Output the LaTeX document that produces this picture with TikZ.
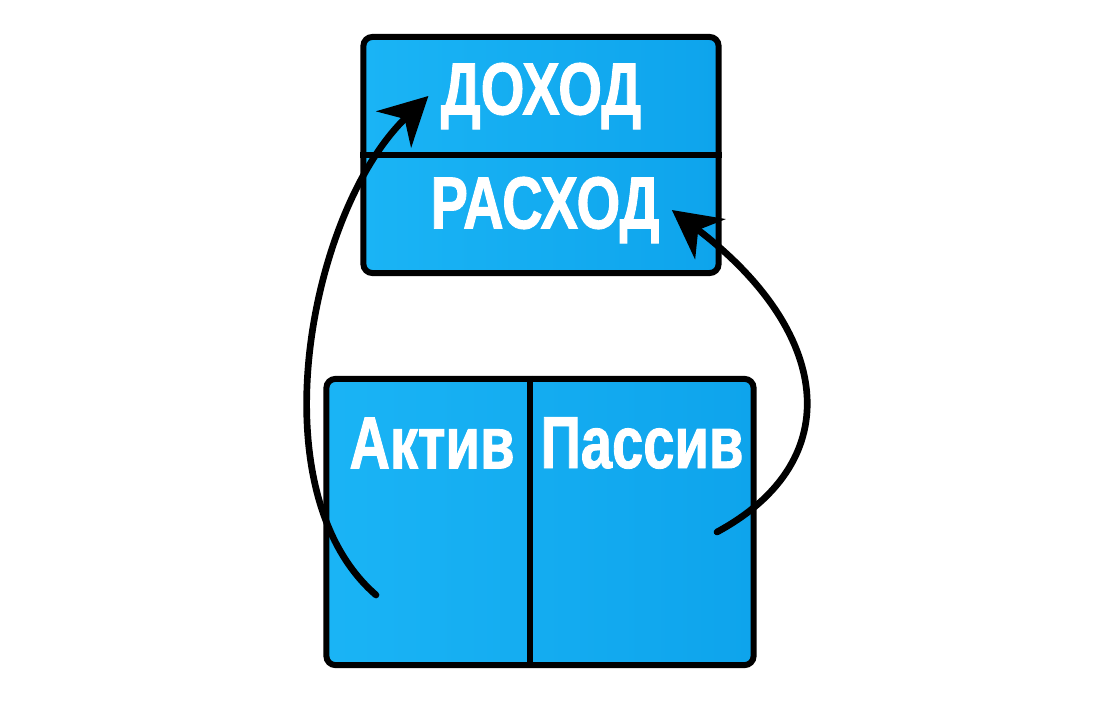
\documentclass[tikz,border=0pt]{standalone}
\usepackage{fontspec}
\newfontfamily\boxfont[FakeStretch=0.76,FakeBold=1.2]{Liberation Sans}
\usetikzlibrary{arrows.meta}
\definecolor{panelleft}{RGB}{26,180,245}
\definecolor{panelright}{RGB}{14,164,236}
\begin{document}
\begin{tikzpicture}[
                    x=0.01cm, y=-0.01cm,
                    >={Stealth[length=0.48cm,width=0.5cm,inset=0.15cm]},
                    panel/.style={draw=black, line width=1.7pt, rounded corners=0.9mm, left color=panelleft, right color=panelright},
                    label/.style={text=white, font=\boxfont\bfseries\fontsize{21}{24}\selectfont},
                    flow/.style={draw=black, line width=1.9pt, line cap=round, ->}
                    ]

                    \useasboundingbox (0,0) rectangle (1093,709);

                    \node [panel, minimum width=3.55cm, minimum height=2.36cm] (report) at (541,155) {};
                    \node [panel, minimum width=4.27cm, minimum height=2.86cm] (balance) at (540,522) {};
                    \draw[line width=1.7pt] (report.west) -- (report.east);
                    \draw[line width=1.7pt] ([xshift=-0.1cm]balance.north) -- ([xshift=-0.1cm]balance.south);

                    \node [label] (income) at (541,96) {ДОХОД};
                    \node [label] (expense) at (545,210) {РАСХОД};
                    \node [label] (asset) at (432,443) {Актив};
                    \node [label] (liability) at (642,443) {Пассив};

                    \coordinate (assetend) at (376,595);
                    \coordinate (liabilityend) at (717,532);

                    \draw[flow] (assetend) .. controls (255,490) and (310,210) .. (income.west);
                    \draw[flow] (liabilityend) .. controls (850,460) and (830,330) .. (expense.east);
                \end{tikzpicture}
\end{document}
